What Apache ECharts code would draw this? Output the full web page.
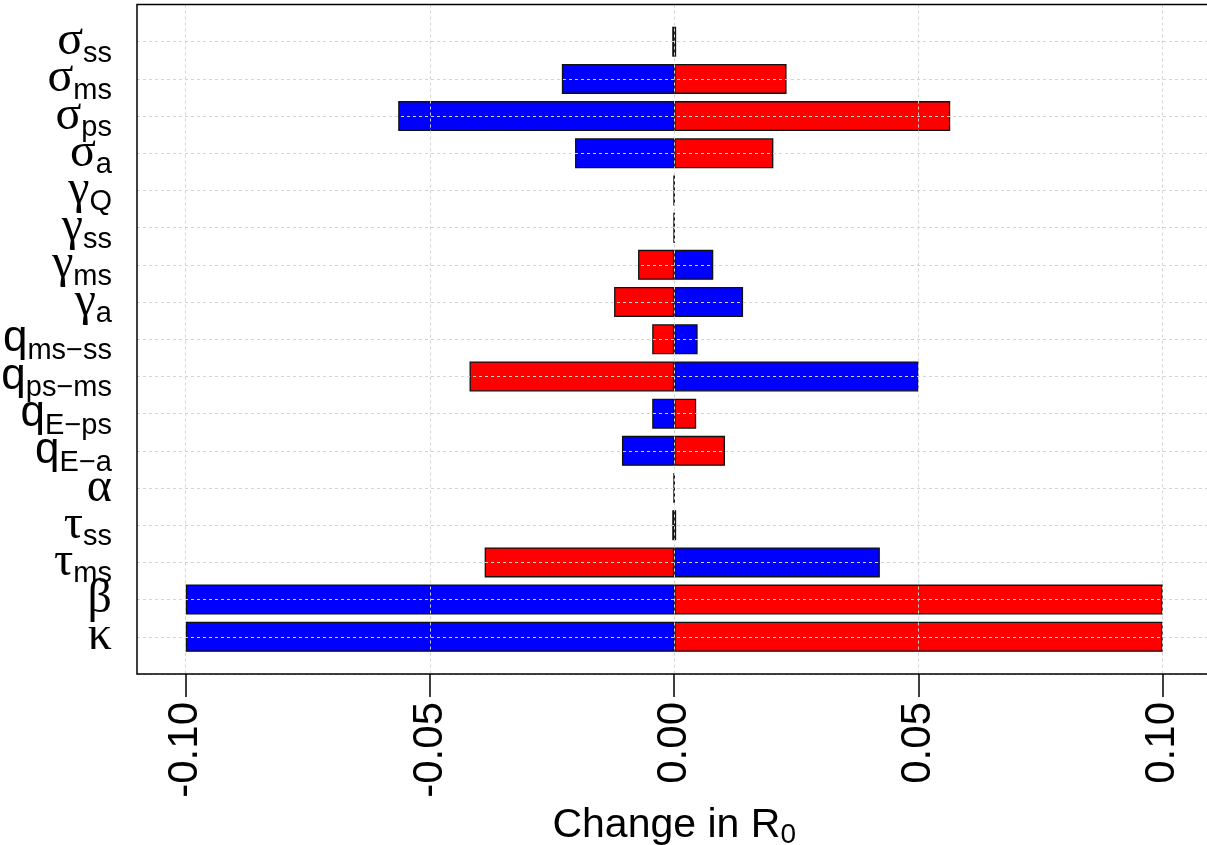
<!DOCTYPE html>
<html>
<head>
<meta charset="utf-8">
<script src="https://cdn.jsdelivr.net/npm/echarts@6/dist/echarts.min.js"></script>
<style>
html,body{margin:0;padding:0;background:#fff;}
#chart{width:1207px;height:845px;}
</style>
</head>
<body>
<div id="chart"></div>
<script>
// ---- data ----
const categoryBase = ['σ','σ','σ','σ','γ','γ','γ','γ','q','q','q','q','α','τ','τ','β','κ'];
const categorySub  = ['ss','ms','ps','a','Q','ss','ms','a','ms−ss','ps−ms','E−ps','E−a','','ss','ms','',''];
const blueValues = [-0.0004,-0.023,-0.0565,-0.0203,0,0,0.0080,0.0141,0.0048,0.0500,-0.0045,-0.0107,0,0.0004,0.0421,-0.1,-0.1];
const redValues  = [0.0004,0.023,0.0565,0.0203,0,0,-0.0074,-0.0123,-0.0045,-0.0419,0.0045,0.0104,0,-0.0004,-0.0388,0.1,0.1];
const xTickLabels = ['-0.10','-0.05','0.00','0.05','0.10'];
const xTickValues = [-0.10,-0.05,0,0.05,0.10];

// padded category list (blank at both ends so categories sit on ticks)
const cats = ['top'].concat(categoryBase.map((b,i)=>String(i)), ['bottom']);
const pad = arr => [null].concat(arr, [null]);

const chart = echarts.init(document.getElementById('chart'));
const dashed = {color:'#d3d3d3', type:[3,3], width:1};

chart.setOption({
  animation:false,
  backgroundColor:'#fff',
  grid:[
    {left:137, top:4.5, width:1080, height:669.5, show:false, containLabel:false, outerBoundsMode:'none'},
    {left:185.7, top:4.5, width:977, height:669.5, show:false, containLabel:false, outerBoundsMode:'none'}
  ],
  graphic:[
    {type:'rect', z:100, silent:true, shape:{x:137, y:4.5, width:1080, height:669.5},
     style:{fill:null, stroke:'#000', lineWidth:1.5}}
  ],
  xAxis:[
    {gridIndex:0, type:'value', min:0, max:1, show:false},
    {gridIndex:1, type:'value', min:-0.10, max:0.10, interval:0.05, z:5,
     axisLine:{show:false},
     axisTick:{show:true, length:23, lineStyle:{color:'#000', width:1.5}},
     axisLabel:{show:true, rotate:90, margin:28, fontSize:42, color:'#000', fontFamily:'Liberation Sans',
       formatter:v=>{const i=xTickValues.findIndex(t=>Math.abs(t-v)<1e-9); return i>=0?xTickLabels[i]:'';}},
     splitLine:{show:true, lineStyle:dashed},
     name:'{a|Change in R}{b|0}', nameLocation:'middle', nameGap:115,
     nameTextStyle:{rich:{
       a:{fontSize:41, fontFamily:'Liberation Sans', color:'#000'},
       b:{fontSize:28, fontFamily:'Liberation Sans', color:'#000', padding:[18,0,0,0]}
     }}
    }
  ],
  yAxis:[
    {gridIndex:0, type:'category', data:cats, inverse:true, boundaryGap:false, z:5,
     axisLine:{show:false}, axisTick:{show:false},
     splitLine:{show:true, interval:0, lineStyle:dashed},
     axisLabel:{show:true, interval:0, margin:25, align:'right',
       formatter:function(v){
         if(v==='top' || v==='bottom') return '';
         const i=+v; const b=categoryBase[i], s=categorySub[i];
         const bs = (b==='q')?'q':'g';
         return '{'+bs+'|'+b+'}'+(s?'{s|'+s+'}':'');
       },
       rich:{
         g:{fontSize:48, fontFamily:'Liberation Serif', color:'#000'},
         q:{fontSize:44, fontFamily:'Liberation Sans', color:'#000'},
         s:{fontSize:29, fontFamily:'Liberation Sans', color:'#000', padding:[24,0,0,0]}
       }
     }},
    {gridIndex:1, type:'category', data:cats, inverse:true, boundaryGap:false, show:true,
     axisLine:{show:false}, axisTick:{show:false}, axisLabel:{show:false}, splitLine:{show:false}}
  ],
  series:[
    {type:'bar', name:'blue', xAxisIndex:1, yAxisIndex:1, data:pad(blueValues), barWidth:30, barGap:'-100%',
     itemStyle:{color:'#0000ff', borderColor:'#111', borderWidth:1.3}},
    {type:'bar', name:'red', xAxisIndex:1, yAxisIndex:1, data:pad(redValues), barWidth:30, barGap:'-100%',
     itemStyle:{color:'#ff0000', borderColor:'#111', borderWidth:1.3}}
  ]
});
</script>
</body>
</html>
